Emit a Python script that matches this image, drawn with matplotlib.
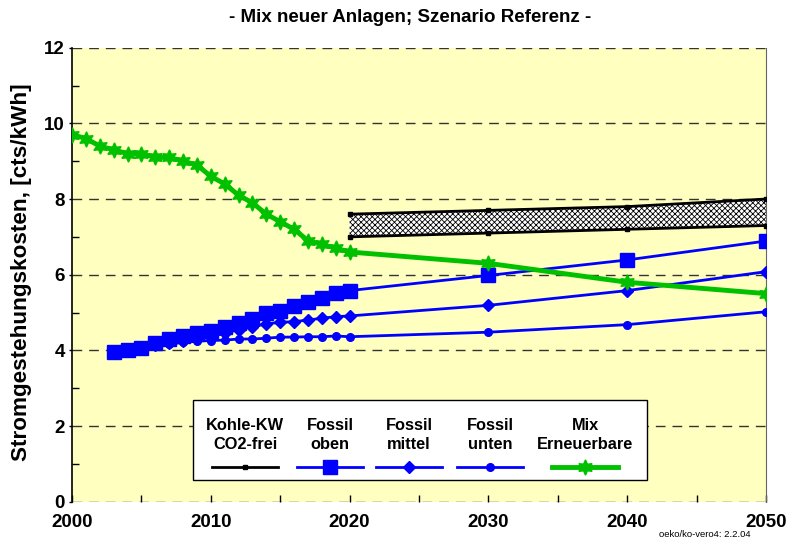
import matplotlib
matplotlib.use("Agg")
import matplotlib.pyplot as plt
import matplotlib.ticker as ticker
from matplotlib.lines import Line2D
from matplotlib.patches import Rectangle

plt.rcParams['font.family'] = ['Liberation Sans', 'DejaVu Sans']
plt.rcParams['hatch.linewidth'] = 0.6

# Data
years_mix = list(range(2000, 2021)) + [2030, 2040, 2050]
mix_ee = [9.7, 9.6, 9.4, 9.3, 9.2, 9.2, 9.1, 9.1, 9.0, 8.9, 8.6, 8.4, 8.1, 7.9,
          7.6, 7.4, 7.2, 6.9, 6.8, 6.7, 6.6, 6.3, 5.8, 5.5]

years_fossil = list(range(2003, 2021)) + [2030, 2040, 2050]
fossil_oben = [3.95, 4.0, 4.06, 4.19, 4.3, 4.39, 4.47, 4.52, 4.63, 4.73, 4.82,
               4.98, 5.05, 5.17, 5.27, 5.38, 5.51, 5.58, 5.98, 6.39, 6.89]
fossil_mittel = [3.95, 4.0, 4.06, 4.14, 4.2, 4.26, 4.31, 4.36, 4.45, 4.55, 4.63,
                 4.70, 4.74, 4.76, 4.80, 4.85, 4.89, 4.91, 5.19, 5.58, 6.08]
fossil_unten = [3.95, 4.0, 4.05, 4.11, 4.17, 4.21, 4.24, 4.26, 4.27, 4.30, 4.30,
                4.32, 4.35, 4.35, 4.36, 4.36, 4.38, 4.36, 4.48, 4.68, 5.02]

years_kohle = [2020, 2030, 2040, 2050]
kohle_oben = [7.6, 7.7, 7.8, 8.0]
kohle_unten = [7.0, 7.1, 7.2, 7.3]

legend_labels = ["Kohle-KW\nCO2-frei", "Fossil\noben", "Fossil\nmittel",
                 "Fossil\nunten", "Mix\nErneuerbare"]

blue = "#0000FF"
green = "#00C000"

fig = plt.figure(figsize=(7.88, 5.44), dpi=100)
ax = fig.add_axes([0.0914, 0.0778, 0.8807, 0.8345])
ax.set_facecolor("#FFFFC0")

ax.set_xlim(2000, 2050)
ax.set_ylim(0, 12)

# grid lines every 2
for v in range(0, 13, 2):
    ax.axhline(v, color="#333333", lw=1.0, dashes=(7, 5), zorder=1)

# Kohle band
ax.fill_between(years_kohle, kohle_unten, kohle_oben, facecolor="white",
                edgecolor="black", hatch="xxxxxx", lw=0, zorder=2)
ax.plot(years_kohle, kohle_oben, color="black", lw=2, marker="s", ms=3, zorder=3)
ax.plot(years_kohle, kohle_unten, color="black", lw=2, marker="s", ms=3, zorder=3)

ax.plot(years_fossil, fossil_unten, color=blue, lw=2, marker="o", ms=5.5, zorder=4)
ax.plot(years_fossil, fossil_mittel, color=blue, lw=2, marker="D", ms=6.5, zorder=4)
ax.plot(years_fossil, fossil_oben, color=blue, lw=2, marker="s", ms=9.5, zorder=4)
ax.plot(years_mix, mix_ee, color=green, lw=3.5, marker=(6, 1, 0), ms=11, zorder=5)

# ticks
ax.xaxis.set_major_locator(ticker.MultipleLocator(10))
ax.xaxis.set_minor_locator(ticker.MultipleLocator(5))
ax.yaxis.set_major_locator(ticker.MultipleLocator(2))
ax.yaxis.set_minor_locator(ticker.MultipleLocator(1))
ax.tick_params(axis="x", which="both", direction="in", length=5, width=1,
               labelsize=13.5, pad=9)
ax.tick_params(axis="y", which="major", direction="out", length=2, width=1,
               labelsize=13.5, pad=3)
ax.tick_params(axis="y", which="minor", direction="in", length=5, width=1)
for lab in ax.get_xticklabels() + ax.get_yticklabels():
    lab.set_fontweight("bold")

ax.spines["top"].set_visible(False)
ax.spines["bottom"].set_visible(False)
ax.spines["right"].set_color("#666666")
ax.spines["left"].set_linewidth(1.2)

# custom legend
ax.add_patch(Rectangle((0.174, 0.048), 0.655, 0.176, transform=ax.transAxes,
                       facecolor="white", edgecolor="black", lw=1, zorder=6))
cols = [0.2493, 0.3718, 0.4856, 0.6023, 0.7392]
styles = [dict(color="black", lw=2, marker="s", ms=3),
          dict(color=blue, lw=2, marker="s", ms=9.5),
          dict(color=blue, lw=2, marker="D", ms=6.5),
          dict(color=blue, lw=2, marker="o", ms=5.5),
          dict(color=green, lw=3.5, marker=(6, 1, 0), ms=11)]
for cx, lab, st in zip(cols, legend_labels, styles):
    ax.text(cx, 0.147, lab, transform=ax.transAxes, ha="center", va="center",
            fontsize=11.8, fontweight="bold", linespacing=1.35, zorder=7)
    ln = Line2D([cx - 0.048, cx + 0.048], [0.076, 0.076], transform=ax.transAxes,
                markevery=[], zorder=7, **st)
    ax.add_line(ln)
    ax.plot([cx], [0.076], transform=ax.transAxes, linestyle="none",
            marker=st["marker"], ms=st["ms"], color=st["color"], zorder=8)

fig.text(0.52, 0.967, "- Mix neuer Anlagen; Szenario Referenz -", ha="center",
         va="center", fontsize=13.5, fontweight="bold")
fig.text(0.027, 0.5, "Stromgestehungskosten, [cts/kWh]", rotation=90,
         ha="center", va="center", fontsize=16.2, fontweight="bold")
fig.text(0.895, 0.018, "oeko/ko-vero4: 2.2.04", ha="center", va="center",
         fontsize=6.8)

fig.savefig("out.png", dpi=100)
